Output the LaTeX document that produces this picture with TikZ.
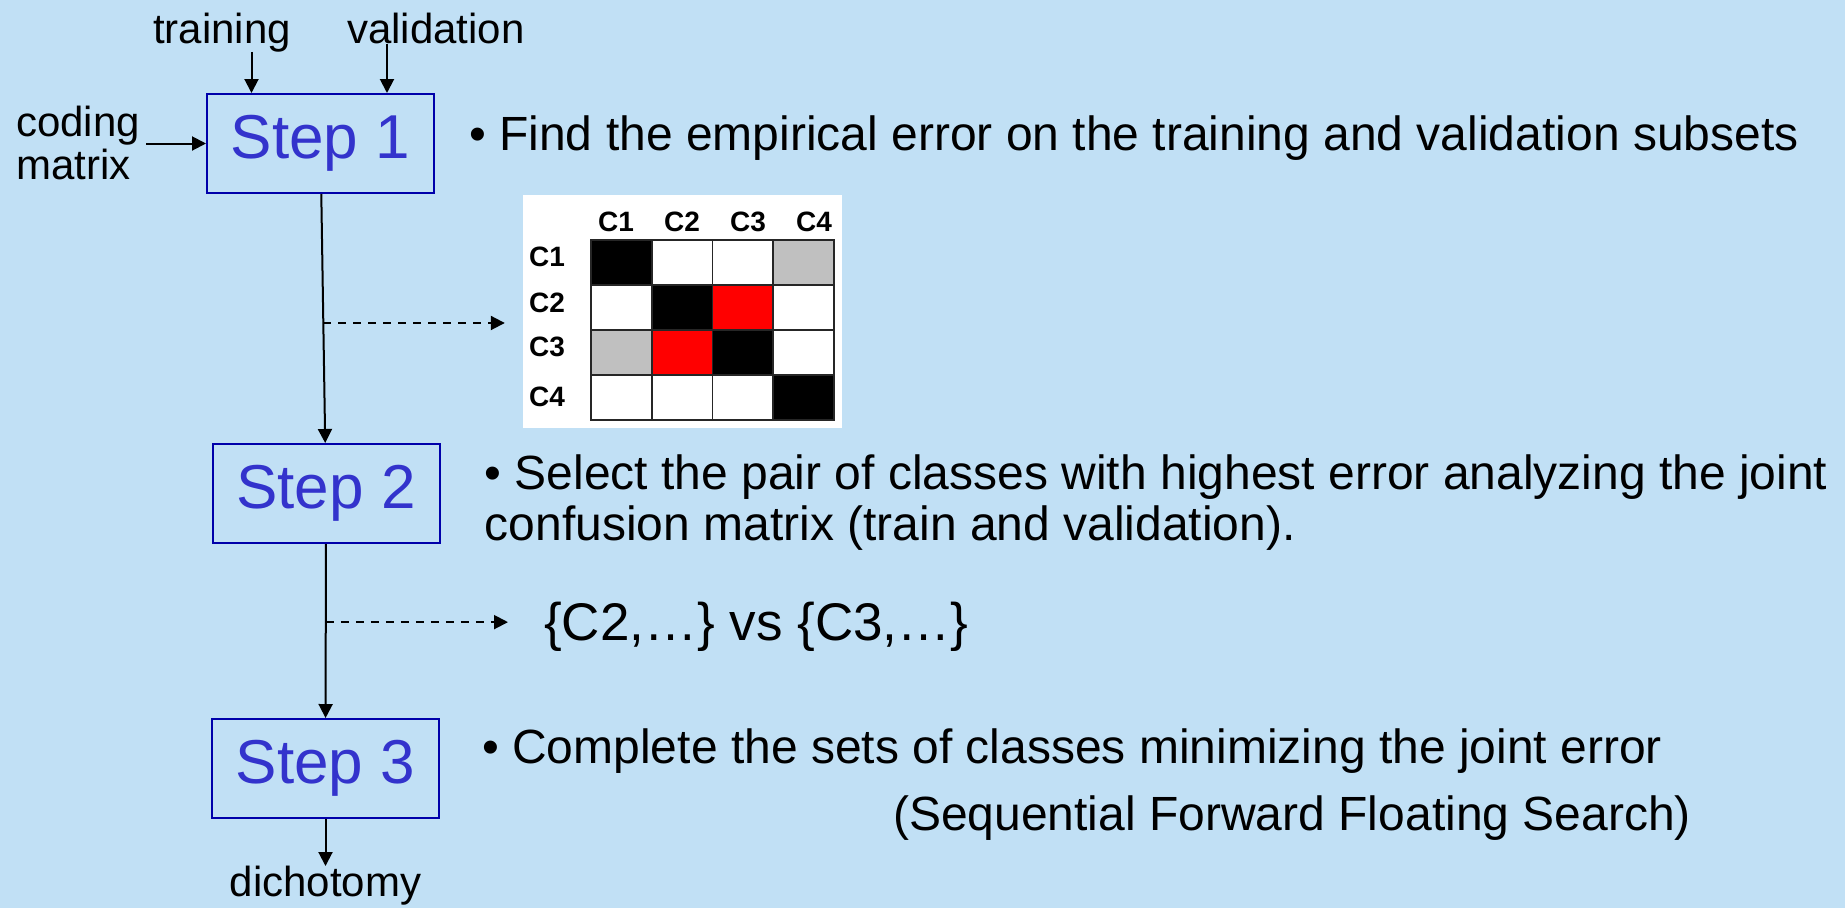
\documentclass[tikz,border=0pt]{standalone}
\usepackage{fontspec}
\setmainfont{Liberation Sans}
\usetikzlibrary{positioning,calc,arrows.meta}
\definecolor{slideblue}{RGB}{193,224,245}
\definecolor{stepblue}{RGB}{51,51,204}
\definecolor{stepframe}{RGB}{0,0,170}
\definecolor{confgrey}{RGB}{192,192,192}

\begin{document}
\begin{tikzpicture}[
    x=1pt, y=-1pt,
    stepbox/.style={rectangle, draw=stepframe, line width=2pt, minimum width=227pt, minimum height=99pt,
                    inner sep=0pt, text=stepblue, font=\fontsize{62}{62}\selectfont},
    tag/.style={inner sep=0pt, font=\fontsize{42}{43}\selectfont},
    bodytext/.style={inner sep=0pt, anchor=base west, align=left, font=\fontsize{48}{51}\selectfont},
    cell/.style={draw=black!85, line width=1.8pt, minimum width=60.75pt, minimum height=45pt, inner sep=0pt},
    hdr/.style={inner sep=0pt, font=\fontsize{28}{28}\selectfont\bfseries},
    arrow/.style={-{Triangle[length=14pt,width=14pt]}, line width=2pt},
    dasharrow/.style={arrow, dash pattern=on 8pt off 7pt}
]
    \useasboundingbox (0,0) rectangle (1845,908);
    \fill[slideblue] (0,0) rectangle (1845,908);

    % the three steps
    \node[stepbox] (s1) at (320.5,143.5) {Step 1};
    \node[stepbox] (s2) at (326,493.5)   {Step 2};
    \node[stepbox] (s3) at (325.5,768.5) {Step 3};

    % inputs and output
    \node[tag, anchor=base] (train) at (222,43) {training};
    \node[tag, anchor=base] (valid) at (436,43) {validation};
    \node[tag, anchor=west, align=left, inner sep=6pt] (coding) at (10,143) {coding\\matrix};
    \node[tag, below=47pt of s3] (dich) {dichotomy};

    \coordinate (tin) at ([xshift=45.5]s1.north west);
    \coordinate (vin) at ([xshift=181]s1.north west);
    \draw[arrow] (train.south -| tin) -- (tin);
    \draw[arrow] (valid.south -| vin) -- (vin);
    \draw[arrow] (coding.east |- s1.west) -- (s1.west);

    \draw[arrow] (s1) -- (s2);
    \draw[arrow] (s2) -- (s3);
    \draw[arrow] (s3) -- (dich);

    % descriptions
    \node[bodytext] (s1txt) at (469,150) {• Find the empirical error on the training and validation subsets};
    \node[bodytext] (s2txt) at (484.5,540) {• Select the pair of classes with highest error analyzing the joint\\confusion matrix (train and validation).};
    \node[bodytext] (s3txt) at (482,763) {• Complete the sets of classes minimizing the joint error};
    \node[bodytext] (sffs) at (893,830) {(Sequential Forward Floating Search)};

    % confusion matrix
    \node[fill=white, inner sep=0pt, minimum width=319pt, minimum height=233pt] (matbg) at (682.5,311.5) {};
    \foreach \row [count=\r] in {{black,white,white,confgrey},{white,black,red,white},{confgrey,red,black,white},{white,white,white,black}}
        \foreach \shade [count=\k] in \row
            \node[cell, fill=\shade] (m\r\k) at ({591+60.75*(\k-0.5)},{240+45*(\r-0.5)}) {};
    \foreach \n/\x in {1/616,2/682,3/748,4/814}
        \node[hdr] (h\n) at (\x,222) {C\n};
    \foreach \n/\y in {1/257,2/303,3/347,4/397}
        \node[hdr] (r\n) at (547,\y) {C\n};

    \coordinate (d1) at ($(s1.south)!0.518!(s2.north)$);
    \draw[dasharrow, shorten >=18pt] (d1) -- (d1 -| matbg.west);

    % chosen pair
    \node[bodytext, font=\fontsize{53}{53}\selectfont] (pair) at (544,640) {\{C2,…\} vs \{C3,…\}};
    \coordinate (d2) at ($(s2.south)!0.449!(s3.north)$);
    \draw[dasharrow, shorten >=36pt] (d2) -- (d2 -| pair.west);
\end{tikzpicture}
\end{document}
